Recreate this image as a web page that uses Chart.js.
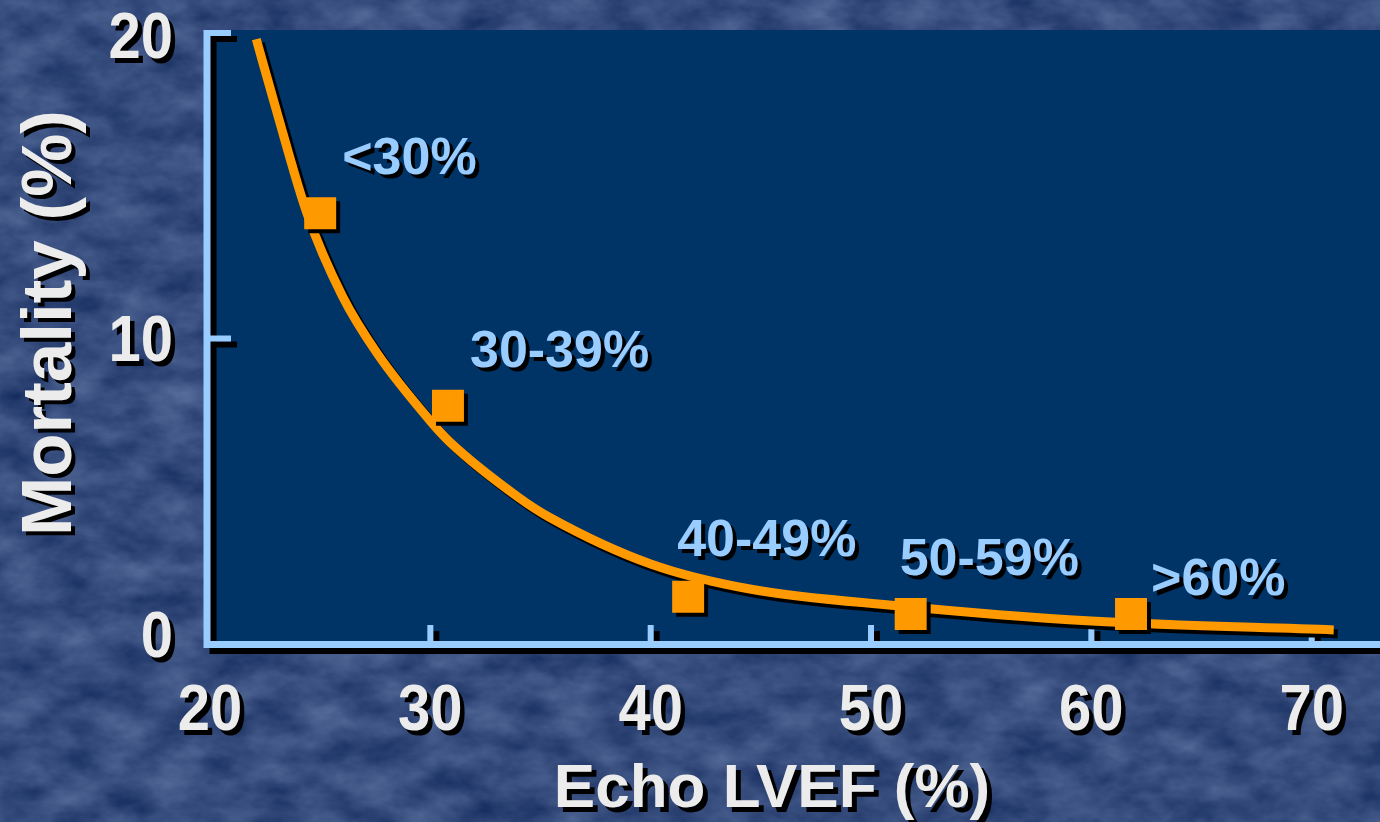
<!DOCTYPE html>
<html>
<head>
<meta charset="utf-8">
<script src="https://cdn.jsdelivr.net/npm/chart.js@4.4.1/dist/chart.umd.min.js"></script>
<style>
    html, body {
        margin: 0;
        padding: 0;
        width: 1380px;
        height: 822px;
        overflow: hidden;
    }
    body {
        background-color: #36508a;
        background-image: url("data:image/svg+xml,%3Csvg xmlns='http://www.w3.org/2000/svg' width='1380' height='822'%3E%3Cfilter id='t' color-interpolation-filters='sRGB'%3E%3CfeTurbulence type='fractalNoise' baseFrequency='0.02 0.034' numOctaves='4' seed='7'/%3E%3CfeColorMatrix type='matrix' values='0.3 0 0 0 0.06  0.3 0 0 0 0.15  0.28 0 0 0 0.35  0 0 0 0 1'/%3E%3C/filter%3E%3Crect width='1380' height='822' filter='url(%23t)'/%3E%3C/svg%3E");
    }
    #wrap {
        position: absolute;
        left: 0;
        top: 0;
        width: 1380px;
        height: 822px;
    }
</style>
</head>
<body>
<div id="wrap"><canvas id="chart" width="1380" height="822"></canvas></div>
<script>
// Group values (LVEF category midpoints vs observed mortality)
const categories = ['<30%', '30-39%', '40-49%', '50-59%', '>60%'];
const groupLVEF = [25.0, 30.8, 41.7, 51.8, 61.8];
const groupMortality = [14.1, 7.8, 1.55, 0.98, 0.98];

// Fitted curve
const fitLVEF = [22.1, 23, 24.4, 26, 27.6, 30, 30.9, 34, 35.4, 40, 44.5, 51.2, 60, 71];
const fitMortality = [19.8, 17.5, 14.1, 11.4, 9.5, 7.3, 6.6, 4.8, 4.15, 2.62, 1.8, 1.25, 0.75, 0.46];

// Axis ticks
const xTicks = [20, 30, 40, 50, 60, 70];
const yTicks = [0, 10, 20];

const ORANGE = '#ff9900';
const AXIS_BLUE = '#99ccff';
const PANEL = '#003366';
const TEXT_WHITE = '#ececec';
const FONT = '"Liberation Sans", Arial, sans-serif';

// label offsets from their square (px)
const labelOffsets = [[22, -39], [22, -39], [-11, -41], [-11, -39], [20, -19]];
// baseline of y tick labels below their tick (px)
const yLabelDy = [13, 22, 25];

function shadowText(ctx, text, x, y, color, off) {
    ctx.fillStyle = '#000000';
    ctx.fillText(text, x + off, y + off);
    ctx.fillStyle = color;
    ctx.fillText(text, x, y);
}

// tick numbers on the slide are a little taller than wide
function tallText(ctx, text, x, y) {
    ctx.save();
    ctx.translate(x, y);
    ctx.scale(1, 1.12);
    shadowText(ctx, text, 0, 0, TEXT_WHITE, 4.5);
    ctx.restore();
}

const slidePlugin = {
    id: 'slide',
    beforeDraw(chart) {
        const ctx = chart.ctx;
        const area = chart.chartArea;
        ctx.save();
        ctx.fillStyle = PANEL;
        ctx.fillRect(area.left - 6, area.top - 3, chart.width - area.left + 6, area.bottom - area.top + 3);
        ctx.restore();
    },
    beforeDatasetsDraw(chart) {
        const ctx = chart.ctx;
        const area = chart.chartArea;
        const xs = chart.scales.x;
        const ys = chart.scales.y;

        // axes, ticks pointing inward, one path so the shadow is a single shape
        ctx.save();
        ctx.shadowColor = '#000000';
        ctx.shadowOffsetX = 6;
        ctx.shadowOffsetY = 6;
        ctx.shadowBlur = 0;
        ctx.fillStyle = AXIS_BLUE;
        ctx.beginPath();
        const axX = area.left - 3;
        const axY = ys.getPixelForValue(0);
        ctx.rect(axX - 3.5, ys.getPixelForValue(20) - 3, 7, axY - ys.getPixelForValue(20) + 6.5);
        ctx.rect(axX - 3.5, axY - 3, chart.width - axX + 4, 7);
        yTicks.forEach(v => {
            if (v === 0) return;
            ctx.rect(axX, ys.getPixelForValue(v) - 3, 24, 6);
        });
        xTicks.forEach(v => {
            if (v === 20) return;
            const px = xs.getPixelForValue(v);
            ctx.rect(px - 3, axY - 19, 6, 19);
        });
        ctx.fill();
        ctx.restore();

        // shadow for the curve and squares
        ctx.save();
        ctx.shadowColor = '#000000';
        ctx.shadowOffsetX = 4;
        ctx.shadowOffsetY = 4;
        ctx.shadowBlur = 0;
    },
    afterDatasetsDraw(chart) {
        const ctx = chart.ctx;
        ctx.restore();

        const xs = chart.scales.x;
        const ys = chart.scales.y;
        ctx.save();

        // tick labels
        ctx.font = 'bold 58px ' + FONT;
        ctx.textBaseline = 'alphabetic';
        ctx.textAlign = 'right';
        yTicks.forEach((v, i) => {
            tallText(ctx, String(v), 173, ys.getPixelForValue(v) + yLabelDy[i]);
        });
        ctx.textAlign = 'center';
        xTicks.forEach(v => {
            tallText(ctx, String(v), xs.getPixelForValue(v), 730);
        });

        // axis titles
        ctx.font = 'bold 62px ' + FONT;
        shadowText(ctx, 'Echo LVEF (%)', 772, 807, TEXT_WHITE, 5);

        ctx.save();
        ctx.translate(71, 323);
        ctx.rotate(-Math.PI / 2);
        ctx.font = 'bold 71px ' + FONT;
        ctx.textAlign = 'center';
        ctx.fillStyle = '#000000';
        ctx.fillText('Mortality (%)', -4, 4);
        ctx.fillStyle = TEXT_WHITE;
        ctx.fillText('Mortality (%)', 0, 0);
        ctx.restore();

        // category labels
        ctx.font = 'bold 52px ' + FONT;
        ctx.textAlign = 'left';
        categories.forEach((label, i) => {
            const px = xs.getPixelForValue(groupLVEF[i]);
            const py = ys.getPixelForValue(groupMortality[i]);
            shadowText(ctx, label, px + labelOffsets[i][0], py + labelOffsets[i][1], AXIS_BLUE, 4);
        });
        ctx.restore();
    }
};

const ctx = document.getElementById('chart').getContext('2d');
const chart = new Chart(ctx, {
    type: 'scatter',
    data: {
        datasets: [{
            label: 'Observed',
            data: groupLVEF.map((x, i) => ({ x: x, y: groupMortality[i] })),
            pointStyle: 'rect',
            pointRadius: 22.6,
            pointHoverRadius: 22.6,
            backgroundColor: ORANGE,
            borderColor: ORANGE,
            borderWidth: 0,
            showLine: false,
            clip: false
        }, {
            label: 'Fit',
            data: fitLVEF.map((x, i) => ({ x: x, y: fitMortality[i] })),
            showLine: true,
            borderColor: ORANGE,
            borderWidth: 9,
            pointRadius: 0,
            cubicInterpolationMode: 'monotone',
            borderCapStyle: 'butt',
            clip: false
        }]
    },
    options: {
        responsive: false,
        animation: false,
        events: [],
        layout: {
            autoPadding: false,
            padding: { left: 210, top: 33, right: 0, bottom: 178 }
        },
        plugins: {
            legend: { display: false },
            tooltip: { enabled: false }
        },
        scales: {
            x: {
                type: 'linear',
                display: false,
                min: 20,
                max: 73.1
            },
            y: {
                type: 'linear',
                display: false,
                min: 0,
                max: 20
            }
        }
    },
    plugins: [slidePlugin]
});
</script>
</body>
</html>
